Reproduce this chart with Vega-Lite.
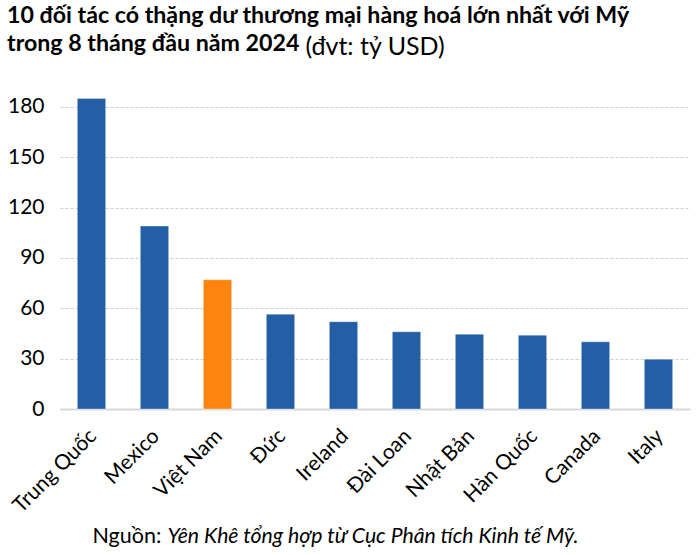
{
  "$schema": "https://vega.github.io/schema/vega-lite/v6.json",
  "autosize": {"type": "none"},
  "width": 630,
  "height": 319,
  "padding": {"left": 60, "top": 90, "right": 10, "bottom": 146},
  "background": "white",
  "config": {
    "font": "Lato",
    "view": {"stroke": null},
    "axis": {"labelFont": "Lato", "titleFont": "Lato"}
  },
  "title": {
    "text": ["10 đối tác có thặng dư thương mại hàng hoá lớn nhất với Mỹ", "trong 8 tháng đầu năm 2024"],
    "anchor": "start",
    "frame": "group",
    "font": "Lato",
    "fontSize": 23.2,
    "fontWeight": "bold",
    "color": "#000000",
    "lineHeight": 28,
    "dx": -53,
    "dy": 32,
    "offset": 10
  },
  "data": {
    "values": [
      {"doi_tac": "Trung Quốc", "gia_tri": 185, "nhom": "khac"},
      {"doi_tac": "Mexico", "gia_tri": 109, "nhom": "khac"},
      {"doi_tac": "Việt Nam", "gia_tri": 77, "nhom": "vn"},
      {"doi_tac": "Đức", "gia_tri": 56.5, "nhom": "khac"},
      {"doi_tac": "Ireland", "gia_tri": 52, "nhom": "khac"},
      {"doi_tac": "Đài Loan", "gia_tri": 46, "nhom": "khac"},
      {"doi_tac": "Nhật Bản", "gia_tri": 44.5, "nhom": "khac"},
      {"doi_tac": "Hàn Quốc", "gia_tri": 44, "nhom": "khac"},
      {"doi_tac": "Canada", "gia_tri": 40, "nhom": "khac"},
      {"doi_tac": "Italy", "gia_tri": 29.7, "nhom": "khac"}
    ]
  },
  "encoding": {
    "x": {
      "field": "doi_tac",
      "type": "nominal",
      "sort": null,
      "scale": {"paddingInner": 0.55, "paddingOuter": 0.275},
      "axis": {
        "title": "Nguồn:",
        "titleFont": "Lato",
        "titleFontSize": 21.5,
        "titleFontWeight": "normal",
        "titleColor": "#000000",
        "titleX": 32,
        "titleY": 133,
        "titleAlign": "left",
        "titleAnchor": null,
        "titleBaseline": "alphabetic",
        "labelAngle": -45,
        "labelFontSize": 21,
        "labelColor": "#000000",
        "labelPadding": 16,
        "labelOffset": -6,
        "ticks": false,
        "domainColor": "#d9d9d9",
        "domainWidth": 2,
        "grid": false
      }
    }
  },
  "layer": [
    {
      "mark": {"type": "bar", "stroke": "#ffffff", "strokeOpacity": 0.35, "strokeWidth": 1},
      "encoding": {
        "y": {
          "field": "gia_tri",
          "type": "quantitative",
          "scale": {"domain": [0, 190], "nice": false},
          "axis": {
            "values": [0, 30, 60, 90, 120, 150, 180],
            "title": "(đvt: tỷ USD)",
            "titleFont": "Lato",
            "titleFontSize": 25,
            "titleFontWeight": "normal",
            "titleColor": "#000000",
            "titleAngle": 0,
            "titleX": 245,
            "titleY": -36,
            "titleAlign": "left",
            "titleAnchor": null,
            "titleBaseline": "alphabetic",
            "labelFontSize": 21,
            "labelColor": "#000000",
            "labelPadding": 16,
            "ticks": false,
            "domain": false,
            "grid": true,
            "gridColor": "#cfcfcf",
            "gridDash": [3, 2],
            "gridWidth": 1
          }
        },
        "color": {
          "field": "nhom",
          "type": "nominal",
          "scale": {"domain": ["khac", "vn"], "range": ["#245fa6", "#fd850f"]},
          "legend": null
        }
      }
    },
    {
      "mark": {"type": "bar", "opacity": 0},
      "encoding": {
        "y": {
          "field": "gia_tri",
          "type": "quantitative",
          "axis": {
            "orient": "right",
            "labels": false,
            "ticks": false,
            "domain": false,
            "grid": false,
            "title": "Yên Khê tổng hợp từ Cục Phân tích Kinh tế Mỹ.",
            "titleFont": "Lato",
            "titleFontSize": 21.2,
            "titleFontWeight": "normal",
            "titleFontStyle": "italic",
            "titleColor": "#000000",
            "titleAngle": 0,
            "titleX": -523,
            "titleY": 452,
            "titleAlign": "left",
            "titleAnchor": null,
            "titleBaseline": "alphabetic"
          }
        }
      }
    }
  ],
  "resolve": {"axis": {"y": "independent"}}
}
